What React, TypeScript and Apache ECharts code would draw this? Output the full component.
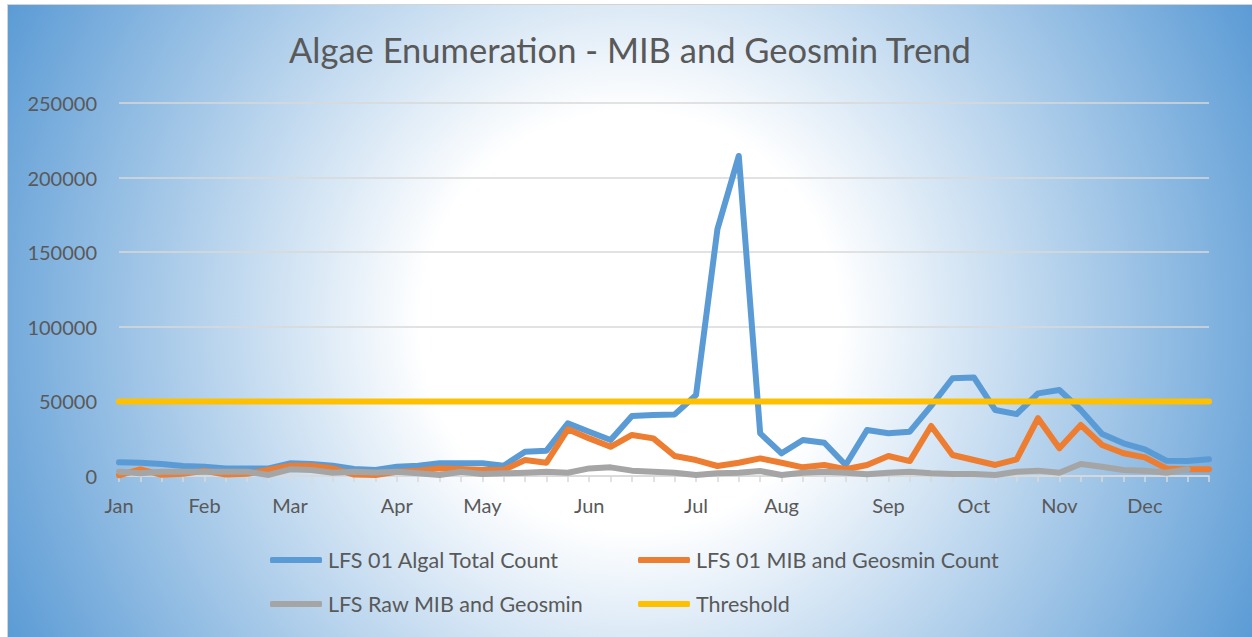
import React, { useEffect, useRef } from "react";
import * as echarts from "echarts";

const MONTHS = ["Jan", "Feb", "Mar", "Apr", "May", "Jun", "Jul", "Aug", "Sep", "Oct", "Nov", "Dec"];
const MONTH_INDEX = [0, 4, 8, 13, 17, 22, 27, 31, 36, 40, 44, 48];
const WEEK_COUNT = 52;

const algalTotal = [
  9200, 8900, 8000, 6700, 6200, 5100, 5100, 5100, 8500, 8000,
  6900, 4700, 4000, 6200, 6900, 8500, 8500, 8500, 6900, 16300,
  17000, 35300, 29700, 24100, 40200, 40900, 41300, 54300, 165500, 214500,
  28600, 15200, 24100, 22300, 7400, 30800, 28600, 29700, 47000, 65500,
  66100, 44200, 41500, 55400, 57600, 44200, 28200, 21900, 17900, 10300,
  10000, 11200,
];

const mibCount = [
  500, 4500, 800, 1500, 3500, 1000, 1500, 4000, 6900, 6900,
  5100, 1000, 700, 2900, 3600, 5100, 4700, 4000, 4000, 10700,
  8900, 31300, 25200, 19600, 27500, 25200, 13400, 10700, 6700, 8900,
  11800, 8900, 5800, 7400, 4500, 7400, 13400, 10000, 33500, 14100,
  10700, 7400, 11200, 38700, 18600, 34200, 20800, 15200, 12500, 5100,
  4500, 4500,
];

const rawMib: (number | null)[] = [
  2900, 1800, 2900, 2900, 2900, 2900, 2900, 700, 4500, 4000,
  2200, 2900, 2400, 2900, 1800, 700, 2900, 1300, 1800, 2200,
  2900, 2200, 5100, 5800, 3600, 2900, 2200, 700, 1800, 2200,
  3300, 700, 2200, 2900, 2200, 1100, 2200, 2900, 1800, 1300,
  1300, 700, 2900, 3600, 2200, 8000, 6200, 4000, 3600, 2200,
  4500, null,
];

const THRESHOLD_VALUE = 50000;
const threshold = new Array(WEEK_COUNT).fill(THRESHOLD_VALUE);

const categories: string[] = [];
for (let i = 0; i < WEEK_COUNT; i++) {
  const m = MONTH_INDEX.indexOf(i);
  categories.push(m >= 0 ? MONTHS[m] : "");
}

const SERIES_NAMES = [
  "LFS 01 Algal Total Count",
  "LFS 01 MIB and Geosmin Count",
  "LFS Raw MIB and Geosmin",
  "Threshold",
];
const COLORS = ["#5B9BD5", "#ED7D31", "#A5A5A5", "#FFC000"];

const FONT = "Lato, 'Noto Sans', sans-serif";
const TEXT = "#595959";

export default function App() {
  const ref = useRef<HTMLDivElement>(null);
  useEffect(() => {
    if (!ref.current) return;
    const chart = echarts.init(ref.current, undefined, { renderer: "svg" });
    const W = 1244;
    const H = 632;
    const bg = new echarts.graphic.RadialGradient(
      W / 2,
      H / 2,
      Math.sqrt((W / 2) ** 2 + (H / 2) ** 2),
      [
        { offset: 0, color: "#ffffff" },
        { offset: 0.3, color: "#ffffff" },
        { offset: 1, color: "#5B9BD5" },
      ],
      true
    );
    const dataSets = [algalTotal, mibCount, rawMib, threshold];
    const legendCommon = {
      orient: "vertical",
      top: 544,
      padding: 0,
      itemGap: 22,
      itemWidth: 52,
      itemHeight: 6,
      icon: "roundRect",
      textStyle: { fontFamily: FONT, fontSize: 21.5, color: TEXT, padding: [0, 0, 0, 1] },
    };
    chart.setOption({
      animation: false,
      backgroundColor: bg,
      textStyle: { fontFamily: FONT },
      title: {
        text: "Algae Enumeration - MIB and Geosmin Trend",
        left: "center",
        top: 22,
        textStyle: { fontFamily: FONT, fontSize: 34.5, fontWeight: "normal", color: TEXT },
      },
      legend: [
        { ...legendCommon, data: [SERIES_NAMES[0], SERIES_NAMES[2]], left: 262 },
        { ...legendCommon, data: [SERIES_NAMES[1], SERIES_NAMES[3]], left: 630 },
      ],
      grid: { left: 111, right: 43, top: 98, bottom: 161, containLabel: false },
      xAxis: {
        type: "category",
        data: categories,
        boundaryGap: false,
        axisLine: { lineStyle: { color: "#d9d9d9", width: 1.5 } },
        axisTick: { show: true, interval: 0, length: 6, lineStyle: { color: "#d9d9d9", width: 1.5 } },
        axisLabel: { interval: 0, margin: 19, fontSize: 20, color: TEXT, fontFamily: FONT },
        splitLine: { show: false },
      },
      yAxis: {
        type: "value",
        min: 0,
        max: 250000,
        interval: 50000,
        axisLine: { show: false },
        axisTick: { show: false },
        axisLabel: {
          margin: 22,
          fontSize: 20,
          color: TEXT,
          fontFamily: FONT,
          formatter: (v: number) => String(v),
        },
        splitLine: { lineStyle: { color: "#d9d9d9", width: 1.5 } },
      },
      series: SERIES_NAMES.map((name, k) => ({
        name,
        type: "line",
        data: dataSets[k],
        symbol: "none",
        showSymbol: false,
        connectNulls: false,
        color: COLORS[k],
        lineStyle: { color: COLORS[k], width: 6, cap: "round", join: "round" },
      })),
    });
    return () => chart.dispose();
  }, []);

  return (
    <div style={{ position: "fixed", left: 0, top: 0, width: 1252, height: 637, background: "#ffffff", overflow: "hidden" }}>
      <div
        style={{
          position: "absolute",
          left: 7,
          top: 4,
          width: 1245,
          height: 633,
          borderLeft: "1px solid #d4d4d4",
          borderTop: "1px solid #d4d4d4",
          boxSizing: "border-box",
        }}
      >
        <div ref={ref} style={{ width: 1244, height: 632 }} />
      </div>
    </div>
  );
}
